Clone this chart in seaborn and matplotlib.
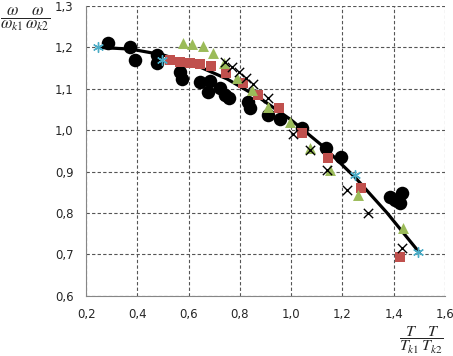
import numpy as np
import pandas as pd
import matplotlib
matplotlib.use('Agg')
import matplotlib.pyplot as plt
import seaborn as sns

# data
circle_x = [0.286, 0.372, 0.391, 0.477, 0.477, 0.567, 0.574, 0.645, 0.684, 0.676, 0.723, 0.742,
            0.758, 0.832, 0.840, 0.910, 0.957, 1.042, 1.136, 1.195, 1.386, 1.432, 1.425, 1.405]
circle_y = [1.211, 1.201, 1.169, 1.182, 1.163, 1.141, 1.124, 1.117, 1.119, 1.093, 1.102, 1.086,
            1.078, 1.069, 1.054, 1.037, 1.028, 1.006, 0.957, 0.936, 0.839, 0.849, 0.825, 0.832]

square_x = [0.528, 0.567, 0.606, 0.645, 0.688, 0.746, 0.812, 0.871, 0.953, 1.042, 1.144, 1.273, 1.425]
square_y = [1.170, 1.165, 1.163, 1.160, 1.156, 1.139, 1.114, 1.086, 1.054, 0.994, 0.933, 0.861, 0.694]

tri_x = [0.578, 0.613, 0.656, 0.695, 0.738, 0.789, 0.847, 0.910, 0.996, 1.074, 1.152, 1.261, 1.436]
tri_y = [1.211, 1.209, 1.204, 1.187, 1.163, 1.127, 1.098, 1.057, 1.020, 0.957, 0.904, 0.844, 0.764]

cross_x = [0.742, 0.769, 0.797, 0.824, 0.851, 0.910, 1.007, 1.074, 1.140, 1.218, 1.300, 1.432]
cross_y = [1.165, 1.153, 1.141, 1.127, 1.112, 1.078, 0.991, 0.953, 0.904, 0.856, 0.800, 0.716]

star_x = [0.247, 0.496, 1.249, 1.495]
star_y = [1.201, 1.170, 0.892, 0.706]

# trend line
line_x = [0.25, 0.375, 0.5, 0.625, 0.75, 0.875, 1.0, 1.125, 1.25, 1.375, 1.5]
line_y = [1.200, 1.196, 1.182, 1.158, 1.124, 1.079, 1.025, 0.961, 0.886, 0.800, 0.705]

x_ticks = [0.2, 0.4, 0.6, 0.8, 1.0, 1.2, 1.4, 1.6]
y_ticks = [0.6, 0.7, 0.8, 0.9, 1.0, 1.1, 1.2, 1.3]

sns.set_style('white')
plt.rcParams['font.family'] = ['DejaVu Sans']
plt.rcParams['mathtext.fontset'] = 'stix'

fig = plt.figure(figsize=(4.53, 3.56), dpi=100)
ax = fig.add_axes([0.19, 0.169, 0.792, 0.814])

sns.lineplot(x=line_x, y=line_y, ax=ax, color='black', linewidth=2.3, zorder=2, sort=False)
sns.scatterplot(x=circle_x, y=circle_y, ax=ax, marker='o', s=95, color='black',
                edgecolor='black', linewidth=0, zorder=3)
sns.scatterplot(x=square_x, y=square_y, ax=ax, marker='s', s=62, color='#C0504D',
                linewidth=0, zorder=4)
sns.scatterplot(x=tri_x, y=tri_y, ax=ax, marker='^', s=62, color='#9BBB59',
                linewidth=0, zorder=5)
sns.scatterplot(x=cross_x, y=cross_y, ax=ax, marker='x', s=45, color='black',
                linewidth=1.0, zorder=6)
sns.scatterplot(x=star_x, y=star_y, ax=ax, marker=(6, 2, 0), s=50, color='#4BACC6',
                edgecolor='#4BACC6', linewidth=1.0, zorder=6)

ax.set_xlim(0.2, 1.6)
ax.set_ylim(0.6, 1.3)
ax.set_xticks(x_ticks)
ax.set_yticks(y_ticks)
ax.set_xticklabels([f'{v:.1f}'.replace('.', ',') for v in x_ticks], fontsize=8.5, color='#262626')
ax.set_yticklabels([f'{v:.1f}'.replace('.', ',') for v in y_ticks], fontsize=8.5, color='#262626')
ax.grid(True, linestyle=(0, (3, 2)), color='#555555', linewidth=0.8)
ax.set_axisbelow(True)
for side in ['top', 'right']:
    ax.spines[side].set_visible(False)
for side in ['left', 'bottom']:
    ax.spines[side].set_color('#868686')
    ax.spines[side].set_linewidth(0.8)
ax.tick_params(axis='x', length=3, color='#868686', pad=6)
ax.tick_params(axis='y', length=3, color='#868686', pad=6)
ax.set_xlabel('')
ax.set_ylabel('')

fig.text(0.0, 0.945, r'$\dfrac{\omega}{\omega_{k1}}\dfrac{\omega}{\omega_{k2}}$', fontsize=12,
         ha='left', va='center')
fig.text(0.88, 0.045, r'$\dfrac{T}{T_{k1}}\dfrac{T}{T_{k2}}$', fontsize=11.5,
         ha='left', va='center')

fig.savefig('out.png', dpi=100)
